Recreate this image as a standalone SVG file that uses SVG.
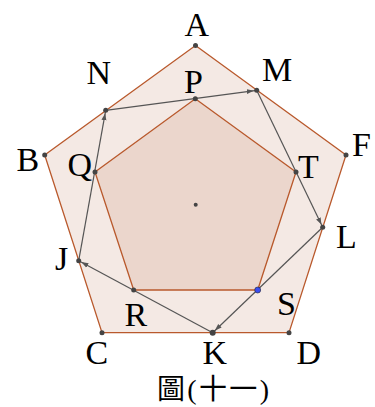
<svg xmlns="http://www.w3.org/2000/svg" width="375" height="407" viewBox="0 0 375 407">
<style>
.outer{fill:#f4e9e4;stroke:#b9592c;stroke-width:1.3}
.inner{fill:#ebd6cc;stroke:#b9592c;stroke-width:1.3}
.seg{stroke:#555;stroke-width:1.2;fill:none;marker-end:url(#ah)}
.pt{fill:#444}
.lbl{font-family:"Liberation Serif",serif;font-size:34px;fill:#000}
.cap{font-family:"Liberation Serif","Noto Sans CJK TC",serif;font-size:28px;fill:#000}
</style>
<defs>
<marker id="ah" markerUnits="userSpaceOnUse" markerWidth="12" markerHeight="8" viewBox="0 0 12 8" refX="10" refY="3" orient="auto">
<path d="M0,0.5 L7,3 L0,5.5 z" fill="#555"/>
</marker>
</defs>
<g id="outer-pentagon"><polygon class="outer" points="195.5,45.5 346,155 289,332.7 102,332.7 44.7,155"/></g>
<g id="inner-pentagon"><polygon class="inner" points="195.3,98.7 296,172 257.7,290 133.7,290 95,172"/></g>
<g id="connectors">
<line class="seg" x1="105.7" y1="110.3" x2="256.7" y2="90.3"/>
<line class="seg" x1="256.7" y1="90.3" x2="322.7" y2="227.3"/>
<line class="seg" x1="322.7" y1="227.3" x2="212.7" y2="332.7"/>
<line class="seg" x1="212.7" y1="332.7" x2="78.7" y2="260.7"/>
<line class="seg" x1="78.7" y1="260.7" x2="105.7" y2="110.3"/>
</g>
<g id="points">
<circle class="pt" cx="195.5" cy="45.5" r="2.5"/>
<circle class="pt" cx="346" cy="155" r="2.5"/>
<circle class="pt" cx="289" cy="332.7" r="2.5"/>
<circle class="pt" cx="102" cy="332.7" r="2.5"/>
<circle class="pt" cx="44.7" cy="155" r="2.5"/>
<circle class="pt" cx="195.3" cy="98.7" r="2.5"/>
<circle class="pt" cx="296" cy="172" r="2.5"/>
<circle class="pt" cx="133.7" cy="290" r="2.5"/>
<circle class="pt" cx="95" cy="172" r="2.5"/>
<circle cx="257.7" cy="290" r="3" fill="#3a4ef0" stroke="#223" stroke-width="0.6"/>
<circle class="pt" cx="105.7" cy="110.3" r="2.5"/>
<circle class="pt" cx="256.7" cy="90.3" r="2.5"/>
<circle class="pt" cx="322.7" cy="227.3" r="2.5"/>
<circle class="pt" cx="212.7" cy="332.7" r="3"/>
<circle class="pt" cx="78.7" cy="260.7" r="2.5"/>
<circle class="pt" cx="195.7" cy="204.7" r="2"/>
</g>
<g id="labels">
<text class="lbl" x="184.5" y="36">A</text>
<text class="lbl" x="86.5" y="84">N</text>
<text class="lbl" x="184" y="92.5">P</text>
<text class="lbl" x="262" y="81">M</text>
<text class="lbl" x="352" y="156">F</text>
<text class="lbl" x="16.5" y="170.5">B</text>
<text class="lbl" x="67.5" y="176">Q</text>
<text class="lbl" x="298" y="178">T</text>
<text class="lbl" x="55" y="270">J</text>
<text class="lbl" x="336" y="248">L</text>
<text class="lbl" x="277" y="315">S</text>
<text class="lbl" x="124.5" y="326">R</text>
<text class="lbl" x="85.5" y="364">C</text>
<text class="lbl" x="202.5" y="364">K</text>
<text class="lbl" x="296.5" y="364">D</text>
</g>
<g id="caption"><text class="cap" x="157" y="399" textLength="112">圖(十一)</text></g>
</svg>
